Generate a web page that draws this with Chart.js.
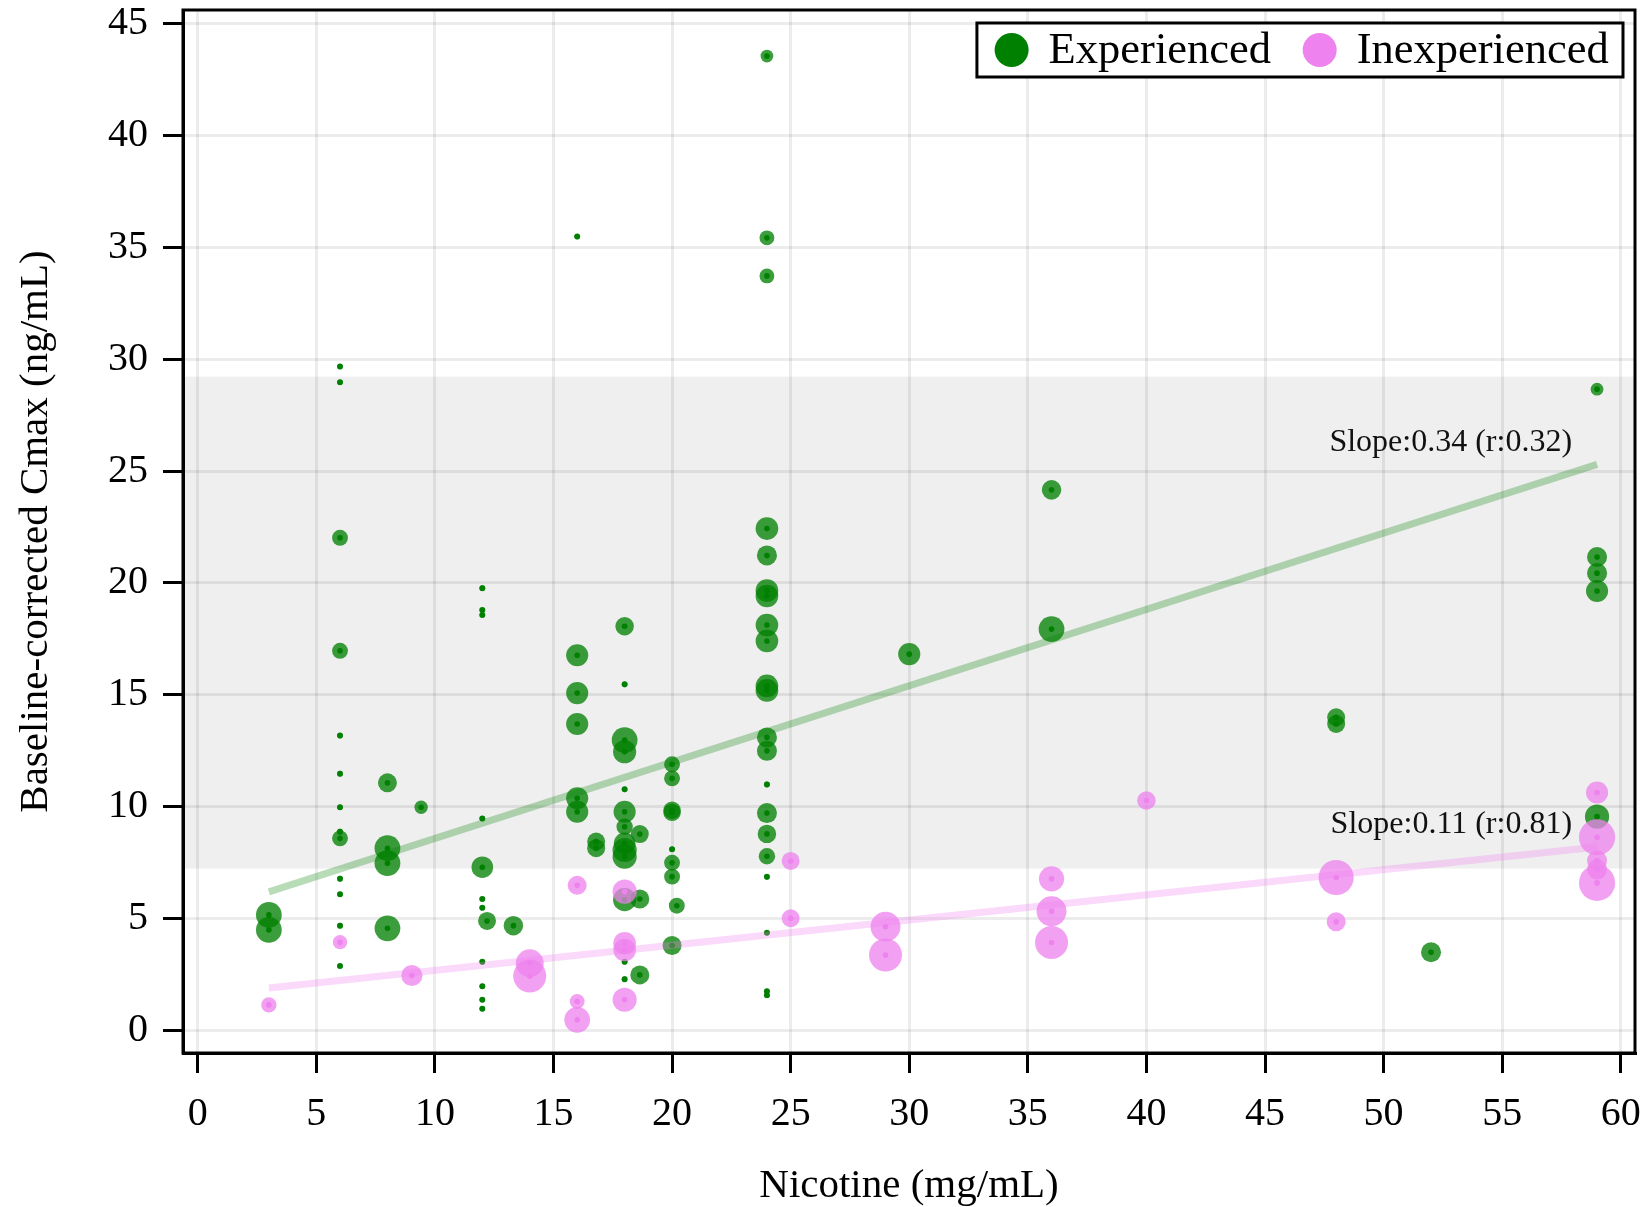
<!DOCTYPE html>
<html>
<head>
<meta charset="utf-8">
<script src="https://cdn.jsdelivr.net/npm/chart.js@4.4.1/dist/chart.umd.min.js"></script>
<style>
  body { margin: 0; background: #fff; }
  #wrap { width: 1649px; height: 1207px; }
</style>
</head>
<body>
<div id="wrap"><canvas id="cmaxChart" width="1649" height="1207"></canvas></div>
<script>
// Experienced: nicotine (mg/mL), baseline-corrected Cmax (ng/mL), marker weight
const expX = [3, 3, 6, 6, 6, 6, 6, 6, 6, 6, 6, 6, 6, 6, 6, 8, 8, 8, 8, 9.42,
    12, 12, 12, 12, 12, 12, 12, 12.2, 12, 12, 12, 12, 13.31,
    16, 16, 16, 16, 16, 16, 16.8, 16.8,
    18, 18, 18, 18, 18, 18, 18, 18, 18, 18, 18, 18, 18, 18.64, 18.64, 18.64,
    20, 20, 20, 20, 20, 20, 20, 20.2, 20,
    24, 24, 24, 24, 24, 24, 24, 24, 24, 24, 24, 24, 24, 24, 24, 24, 24, 24, 24, 24, 24,
    30, 36, 36, 48, 48, 52, 59, 59, 59, 59, 59];
const expY = [5.17, 4.50, 29.67, 28.97, 22.02, 16.97, 13.18, 11.48, 9.98, 8.89, 8.59, 6.79, 6.09, 4.69, 2.89,
    11.07, 8.15, 7.48, 4.57, 9.98,
    19.77, 18.79, 18.57, 9.48, 7.30, 5.88, 5.49, 4.90, 3.08, 1.98, 1.38, 0.98, 4.69,
    35.48, 16.77, 15.08, 13.70, 10.38, 9.78, 8.45, 8.15,
    18.07, 15.47, 12.98, 12.46, 10.78, 9.78, 9.11, 8.37, 8.07, 7.77, 5.85, 3.08, 2.30, 8.78, 5.88, 2.49,
    11.90, 11.27, 9.85, 9.75, 8.10, 7.50, 6.88, 5.58, 3.80,
    43.54, 35.42, 33.72, 22.43, 21.23, 19.66, 19.42, 18.12, 17.41, 15.40, 15.20, 13.10, 12.50, 11.00, 9.72, 8.79, 7.79, 6.87, 4.37, 1.76, 1.58,
    16.82, 24.16, 17.94, 14.00, 13.70, 3.50, 28.66, 21.16, 20.44, 19.64, 9.56];
const expW = [4.8, 4.8, 1, 1, 2.9, 2.9, 1, 1, 1, 1, 2.9, 1, 1, 1, 1,
    3.5, 4.8, 4.8, 4.8, 2.4,
    1, 1, 1, 1, 4, 1, 1, 3.3, 1, 1, 1, 1, 3.6,
    1, 4.1, 4.1, 4.1, 4.1, 4.1, 3.3, 3.3,
    3.4, 1, 4.8, 4.3, 1, 4.1, 3.0, 4, 4.5, 4.5, 4.3, 1, 1, 3.3, 3.5, 3.5,
    2.9, 2.9, 3.2, 3.2, 1, 2.9, 2.9, 2.9, 3.5,
    2.3, 2.7, 2.7, 4.2, 3.7, 4.2, 4.2, 4.2, 4.2, 4.2, 4.2, 3.7, 3.7, 1, 3.7, 3.4, 3.0, 1, 1, 1, 1,
    4.1, 3.6, 4.8, 3.3, 3.3, 3.7, 2.3, 3.7, 3.7, 4.1, 4.5];

// Inexperienced
const inexpX = [3, 6, 9.03, 14, 14, 16, 16, 16, 18, 18, 18, 18, 25, 25, 29, 29, 36, 36, 36, 40, 48, 48, 59, 59, 59, 59, 59];
const inexpY = [1.15, 3.95, 2.46, 3.01, 2.44, 6.49, 1.30, 0.48, 6.21, 3.90, 3.60, 1.38, 7.58, 5.02, 4.64, 3.38,
    6.78, 5.33, 3.94, 10.28, 6.84, 4.86, 10.64, 8.64, 7.60, 7.20, 6.60];
const inexpW = [2.8, 2.6, 3.9, 5.2, 6.2, 3.5, 2.7, 4.8, 4.5, 4.2, 4.2, 4.5, 3.3, 3.3, 5.6, 6.2,
    4.7, 5.6, 6.2, 3.4, 6.6, 3.5, 4.1, 6.8, 3.7, 3.7, 6.8];

// fitted lines (end points) and labels
const expFit = [[3, 6.2], [59, 25.3]];
const inexpFit = [[3, 1.9], [59, 8.2]];
const fitLabels = ["Slope:0.34 (r:0.32)", "Slope:0.11 (r:0.81)"];
const seriesNames = ["Experienced", "Inexperienced"];
const bandRange = [7.24, 29.22];
const xTicksStep = 5, yTicksStep = 5;

const GREEN = "rgb(0,128,0)", VIOLET = "rgb(238,130,238)";
const serif = "'Liberation Serif', 'DejaVu Serif', serif";

function radius(w) { return 3 + (w - 1) * 2.6; }
function bubbles(xs, ys, ws) { return xs.map((x, i) => ({ x: x, y: ys[i], r: radius(ws[i]) })); }
function dots(xs, ys) { return xs.map((x, i) => ({ x: x, y: ys[i], r: 2.8 })); }
function fitLine(p) { return p.map(q => ({ x: q[0], y: q[1] })); }

const overlay = {
    id: "overlay",
    beforeDraw(chart) {
        const { ctx, chartArea: a, scales } = chart;
        const t = scales.y.getPixelForValue(bandRange[1]);
        const b = scales.y.getPixelForValue(bandRange[0]);
        ctx.save();
        ctx.fillStyle = "#efefef";
        ctx.fillRect(a.left, t, a.right - a.left, b - t);
        ctx.restore();
    },
    afterDraw(chart) {
        const { ctx, chartArea: a, scales } = chart;
        ctx.save();
        // frame
        ctx.strokeStyle = "#000";
        ctx.lineWidth = 3;
        ctx.strokeRect(a.left, a.top, a.right - a.left, a.bottom - a.top);

        // slope labels near the end of each fit
        ctx.font = "32px " + serif;
        ctx.fillStyle = "#111";
        ctx.textAlign = "right";
        ctx.textBaseline = "middle";
        [expFit, inexpFit].forEach((f, i) => {
            const ex = scales.x.getPixelForValue(f[1][0]);
            const ey = scales.y.getPixelForValue(f[1][1]);
            ctx.fillText(fitLabels[i], ex - 25, ey - 22);
        });

        // legend box
        ctx.font = "44.5px " + serif;
        const w1 = ctx.measureText(seriesNames[0]).width;
        const w2 = ctx.measureText(seriesNames[1]).width;
        const boxW = 34.7 + 37 + w1 + 48 + 36 + w2 + 16;
        const right = a.right - 12, top = a.top + 13, h = 54;
        const left = right - boxW;
        ctx.fillStyle = "#fff";
        ctx.fillRect(left, top, boxW, h);
        ctx.strokeRect(left, top, boxW, h);
        const cy = top + h / 2;
        let cx = left + 34.7;
        [[GREEN, seriesNames[0], w1], [VIOLET, seriesNames[1], w2]].forEach(item => {
            ctx.fillStyle = item[0];
            ctx.beginPath();
            ctx.arc(cx, cy, 17, 0, Math.PI * 2);
            ctx.fill();
            ctx.fillStyle = "#000";
            ctx.textAlign = "left";
            ctx.fillText(item[1], cx + 37, cy + 1);
            cx += 37 + item[2] + 48 + 0.7;
        });
        ctx.restore();
    }
};

const ctx = document.getElementById("cmaxChart").getContext("2d");
new Chart(ctx, {
    type: "bubble",
    data: {
        datasets: [
            { type: "line", label: "fitExp", data: fitLine(expFit), borderColor: "rgba(0,128,0,0.28)",
              borderWidth: 7, pointRadius: 0, fill: false, order: 1 },
            { type: "line", label: "fitInexp", data: fitLine(inexpFit), borderColor: "rgba(238,130,238,0.3)",
              borderWidth: 7, pointRadius: 0, fill: false, order: 2 },
            { label: seriesNames[1] + " centre", data: dots(inexpX, inexpY), backgroundColor: VIOLET,
              borderWidth: 0, order: 3 },
            { label: seriesNames[1], data: bubbles(inexpX, inexpY, inexpW), backgroundColor: "rgba(238,130,238,0.75)",
              borderWidth: 0, order: 4 },
            { label: seriesNames[0] + " centre", data: dots(expX, expY), backgroundColor: GREEN,
              borderWidth: 0, order: 5 },
            { label: seriesNames[0], data: bubbles(expX, expY, expW), backgroundColor: "rgba(0,128,0,0.77)",
              borderWidth: 0, order: 6 }
        ]
    },
    options: {
        responsive: false,
        animation: false,
        events: [],
        layout: { autoPadding: false, padding: { top: 10, right: 14, left: 0, bottom: 0 } },
        plugins: { legend: { display: false }, tooltip: { enabled: false } },
        scales: {
            x: {
                type: "linear",
                min: -0.62, max: 60.6,
                afterFit: s => { s.height = 154; s.paddingLeft = 0; s.paddingRight = 0; },
                ticks: { stepSize: xTicksStep, includeBounds: false, color: "#000", padding: 17,
                         font: { family: serif, size: 40 } },
                grid: { color: "rgba(0,0,0,0.075)", lineWidth: 3, tickColor: "#000", tickLength: 20, tickWidth: 3 },
                border: { color: "#000", width: 3 },
                title: { display: true, text: "Nicotine (mg/mL)", color: "#000",
                         font: { family: serif, size: 41, lineHeight: 1.0 }, padding: { top: 0, bottom: 0 } }
            },
            y: {
                type: "linear",
                min: -1.0, max: 45.6,
                afterFit: s => { s.width = 183; s.paddingTop = 0; s.paddingBottom = 0; },
                ticks: { stepSize: yTicksStep, includeBounds: false, color: "#000", padding: 15,
                         font: { family: serif, size: 40 } },
                grid: { color: "rgba(0,0,0,0.075)", lineWidth: 3, tickColor: "#000", tickLength: 20, tickWidth: 3 },
                border: { color: "#000", width: 3 },
                title: { display: true, text: "Baseline-corrected Cmax (ng/mL)", color: "#000",
                         font: { family: serif, size: 41 }, padding: { top: 12, bottom: 0 } }
            }
        }
    },
    plugins: [overlay]
});
</script>
</body>
</html>
